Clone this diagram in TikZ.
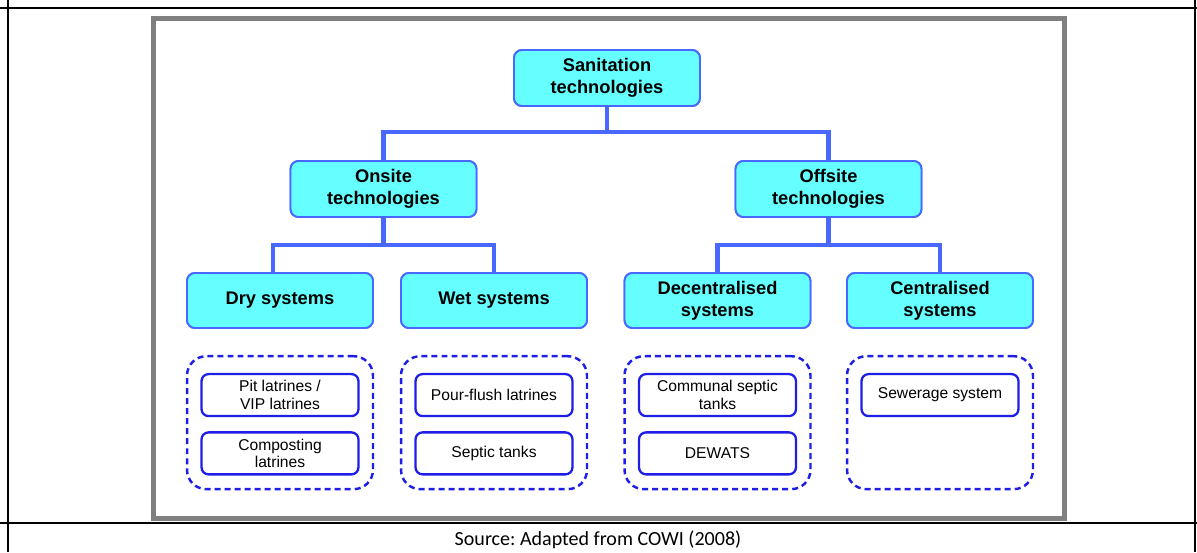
\documentclass[tikz,border=0pt]{standalone}
\usepackage{fontspec}
\setmainfont{Liberation Sans}
\newfontfamily\srcfont{Carlito}
\usetikzlibrary{positioning}
\frenchspacing

\definecolor{boxfill}{RGB}{102,255,255}
\definecolor{boxline}{RGB}{72,104,255}
\definecolor{itemline}{RGB}{30,30,230}
\definecolor{framegray}{RGB}{128,128,128}

\begin{document}
\begin{tikzpicture}[x=0.02cm,y=-0.02cm,
	techbox/.style={ % cyan boxes
			draw=boxline, fill=boxfill, line width=1.1pt, rounded corners=4.5pt,
			minimum width=3.72cm, minimum height=1.12cm, align=center, inner sep=1pt,
			font=\fontsize{10.4}{12.5}\selectfont\bfseries
		},
	itembox/.style={
			draw=itemline, fill=white, line width=1.3pt, rounded corners=4pt,
			minimum width=3.14cm, minimum height=0.84cm, align=center, inner sep=1pt,
			font=\fontsize{8.9}{10.2}\selectfont
		},
	groupbox/.style={
			draw=itemline, dash pattern=on 3.4pt off 2.3pt, line width=1.4pt,
			rounded corners=11pt, minimum width=3.72cm, minimum height=2.66cm
		},
	link/.style={draw=boxline, line width=2.3pt}
]
	\useasboundingbox (0,0) rectangle (1197,552);
	%% table rules
	\draw[line width=1.3pt] (0,8) -- (1197,8) (0,523) -- (1197,523)
		(8,0) -- (8,552) (1195,0) -- (1195,552);
	\draw[framegray, line width=2.8pt] (153.5,18.5) rectangle (1064.5,518.5);

	%% tree
	\node[techbox] (sanit) at (607,78) {Sanitation\\technologies};
	\node[techbox] (onsite) at (383.5,189) {Onsite\\technologies};
	\node[techbox] (offsite) at (828.5,189) {Offsite\\technologies};
	\node[techbox, minimum height=1.1cm] (dry) at (280,300.5) {Dry systems};
	\node[techbox, minimum height=1.1cm] (wet) at (494,300.5) {Wet systems};
	\node[techbox, minimum height=1.1cm] (decent) at (717.5,300.5) {Decentralised\\systems};
	\node[techbox, minimum height=1.1cm] (central) at (940,300.5) {Centralised\\systems};

	\coordinate (hubtop) at (607,132);
	\coordinate (hubon) at (383.5,245);
	\coordinate (huboff) at (828.5,245);
	% connectors
	\draw[link] (sanit) -- (hubtop);
	\draw[link] (onsite.north) |- (hubtop) -| (offsite.north);
	\draw[link] (onsite) -- (hubon);
	\draw[link] ([xshift=-0.14cm]dry.north) |- (hubon) -| (wet.north);
	\draw[link] (offsite) -- (huboff);
	\draw[link] (decent.north) |- (huboff) -| (central.north);
	% redraw boxes over the line ends
	\foreach \n/\t in {sanit/{Sanitation\\technologies}, onsite/{Onsite\\technologies}, offsite/{Offsite\\technologies}}
		\node[techbox] at (\n) {\t};
	\foreach \n/\t in {dry/{Dry systems}, wet/{Wet systems}, decent/{Decentralised\\systems}, central/{Centralised\\systems}}
		\node[techbox, minimum height=1.1cm] at (\n) {\t};

	%% examples under each system
	\node[groupbox, below=0.52cm of dry] (drygrp) {};
	\node[groupbox, below=0.52cm of wet] (wetgrp) {};
	\node[groupbox, below=0.52cm of decent] (decgrp) {};
	\node[groupbox, below=0.52cm of central] (cengrp) {};

	\node[itembox, below=0.36cm of drygrp.north] (pit) {Pit latrines /\\VIP latrines};
	\node[itembox, below=0.28cm of pit] (compost) {Composting\\latrines};
	\node[itembox, below=0.36cm of wetgrp.north] (pour) {Pour-flush latrines};
	\node[itembox, below=0.28cm of pour] (septic) {Septic tanks};
	\node[itembox, below=0.36cm of decgrp.north] (communal) {Communal septic\\tanks};
	\node[itembox, below=0.28cm of communal] (dewats) {DEWATS};
	\node[itembox, below=0.36cm of cengrp.north] (sewer) {Sewerage system};

	\node[font=\srcfont\fontsize{11.4}{13}\selectfont] (src) at (598,540) {Source: Adapted from COWI (2008)};
\end{tikzpicture}
\end{document}
